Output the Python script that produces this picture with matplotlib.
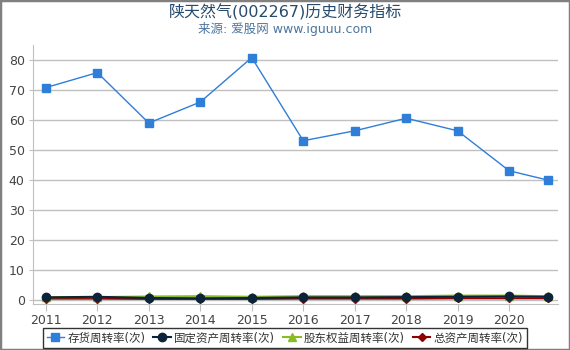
import matplotlib
matplotlib.use("Agg")
import matplotlib.pyplot as plt
from matplotlib.patches import Rectangle

plt.rcParams['font.family'] = ['DejaVu Sans', 'Noto Sans CJK SC']

# report dates (last one is the Q3 figure of the following year)
years = [2011, 2012, 2013, 2014, 2015, 2016, 2017, 2018, 2019, 2020, 2020.75]
year_ticks = [2011, 2012, 2013, 2014, 2015, 2016, 2017, 2018, 2019, 2020]

inventory_turnover = [70.8, 75.8, 59.0, 66.0, 80.8, 53.1, 56.4, 60.6, 56.4, 43.1, 40.0]
fixed_asset_turnover = [0.9, 1.1, 0.7, 0.6, 0.7, 0.9, 0.9, 1.0, 1.1, 1.2, 1.1]
equity_turnover = [1.0, 1.0, 1.2, 1.3, 1.1, 1.3, 1.3, 1.3, 1.5, 1.5, 1.3]
total_asset_turnover = [0.5, 0.5, 0.4, 0.4, 0.4, 0.5, 0.5, 0.5, 0.6, 0.6, 0.6]

series_names = ['存货周转率(次)', '固定资产周转率(次)', '股东权益周转率(次)', '总资产周转率(次)']

fig = plt.figure(figsize=(5.7, 3.5), dpi=100)
# outer gray frame
fig.patches.append(Rectangle((0, 0), 1, 1, transform=fig.transFigure, fill=False,
                             edgecolor='#808080', linewidth=2.5))

ax = fig.add_axes([33 / 570, 46 / 350, 525 / 570, 259 / 350])

ax.plot(years, inventory_turnover, color='#2f7ed8', marker='s', markersize=5.5, lw=1,
        label=series_names[0], zorder=5)
ax.plot(years, fixed_asset_turnover, color='#0d233a', marker='o', markersize=6, lw=1.5,
        label=series_names[1], zorder=4)
ax.plot(years, equity_turnover, color='#8bbc21', marker='^', markersize=6, lw=1.5,
        label=series_names[2], zorder=3)
ax.plot(years, total_asset_turnover, color='#910000', marker='D', markersize=4, lw=1.5,
        label=series_names[3], zorder=2)

ax.set_xlim(2010.75, 2020.95)
ax.set_ylim(-1.3, 85)
ax.set_xticks(year_ticks)
ax.set_xticklabels([str(y) for y in year_ticks])
ax.set_yticks(range(0, 90, 10))

ax.grid(axis='y', color='#c0c0c0', lw=1)
ax.set_axisbelow(True)
for side in ['top', 'right']:
    ax.spines[side].set_visible(False)
for side in ['left', 'bottom']:
    ax.spines[side].set_color('#c0c0c0')
ax.tick_params(axis='x', colors='#c0c0c0', labelcolor='#444444', labelsize=9, length=5, pad=2)
ax.tick_params(axis='y', colors='#c0c0c0', labelcolor='#444444', labelsize=9, length=3, pad=3)

fig.text(0.5, 1 - 12 / 350, '陕天然气(002267)历史财务指标', ha='center', va='center',
         fontsize=11.5, color='#274b6d')
fig.text(0.5, 1 - 29 / 350, '来源: 爱股网 www.iguuu.com', ha='center', va='center',
         fontsize=9, color='#4d759e')

leg = fig.legend(loc='center', bbox_to_anchor=(285 / 570, 1 - 338 / 350), ncol=4,
                 fontsize=8.3, frameon=True, fancybox=False, handlelength=1.5,
                 handletextpad=0.3, columnspacing=0.7, borderpad=0.3, borderaxespad=0)
leg.get_frame().set_edgecolor('black')
leg.get_frame().set_linewidth(1)
for t in leg.get_texts():
    t.set_color('#333333')

fig.savefig('out.png', dpi=100)
